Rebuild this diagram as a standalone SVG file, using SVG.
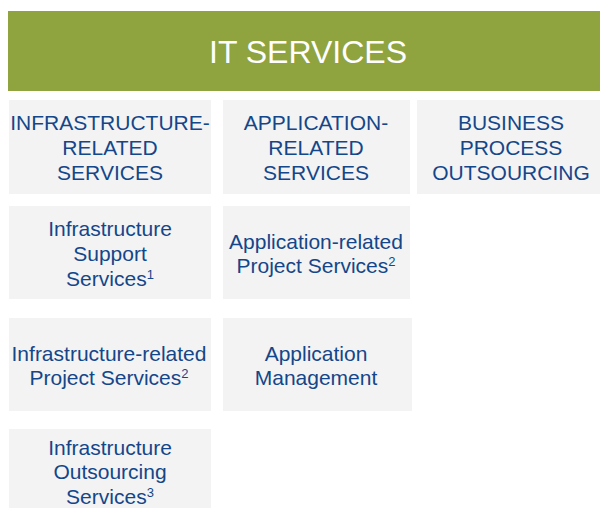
<svg xmlns="http://www.w3.org/2000/svg" width="600" height="508" viewBox="0 0 600 508">
<style>
.box{fill:#f3f3f3}
.t{font-family:"Liberation Sans",Arial,sans-serif;font-size:21px;fill:#14468a;text-anchor:middle}
.sup{font-size:13px}
.h{font-family:"Liberation Sans",Arial,sans-serif;font-size:32px;fill:#ffffff;text-anchor:middle}
</style>
<rect width="600" height="508" fill="#ffffff"/>
<g id="header">
<rect x="8" y="11" width="592" height="80" fill="#8fa33f"/>
<text class="h" x="308" y="63">IT SERVICES</text>
</g>
<g id="infra-related">
<rect class="box" x="9" y="100" width="202" height="94"/>
<text class="t" x="110" y="130">INFRASTRUCTURE-</text>
<text class="t" x="110" y="155">RELATED</text>
<text class="t" x="110" y="180">SERVICES</text>
</g>
<g id="app-related">
<rect class="box" x="223" y="100" width="187" height="94"/>
<text class="t" x="316" y="130">APPLICATION-</text>
<text class="t" x="316" y="155">RELATED</text>
<text class="t" x="316" y="180">SERVICES</text>
</g>
<g id="bpo">
<rect class="box" x="417" y="100" width="183" height="94"/>
<text class="t" x="511" y="130">BUSINESS</text>
<text class="t" x="511" y="155">PROCESS</text>
<text class="t" x="511" y="180">OUTSOURCING</text>
</g>
<g id="infra-support">
<rect class="box" x="9" y="206" width="202" height="93"/>
<text class="t" x="110" y="236">Infrastructure</text>
<text class="t" x="110" y="261">Support</text>
<text class="t" x="110" y="286">Services<tspan class="sup" dy="-7">1</tspan></text>
</g>
<g id="app-project">
<rect class="box" x="223" y="206" width="187" height="93"/>
<text class="t" x="316" y="249">Application-related</text>
<text class="t" x="316" y="273">Project Services<tspan class="sup" dy="-7">2</tspan></text>
</g>
<g id="infra-project">
<rect class="box" x="9" y="318" width="202" height="93"/>
<text class="t" x="109" y="361">Infrastructure-related</text>
<text class="t" x="109" y="385">Project Services<tspan class="sup" dy="-7">2</tspan></text>
</g>
<g id="app-mgmt">
<rect class="box" x="223" y="318" width="189" height="93"/>
<text class="t" x="316" y="361">Application</text>
<text class="t" x="316" y="385">Management</text>
</g>
<g id="infra-outsourcing">
<rect class="box" x="9" y="429" width="202" height="79"/>
<text class="t" x="110" y="455">Infrastructure</text>
<text class="t" x="110" y="479">Outsourcing</text>
<text class="t" x="110" y="504">Services<tspan class="sup" dy="-7">3</tspan></text>
</g>
<g id="connectors"></g>
</svg>
